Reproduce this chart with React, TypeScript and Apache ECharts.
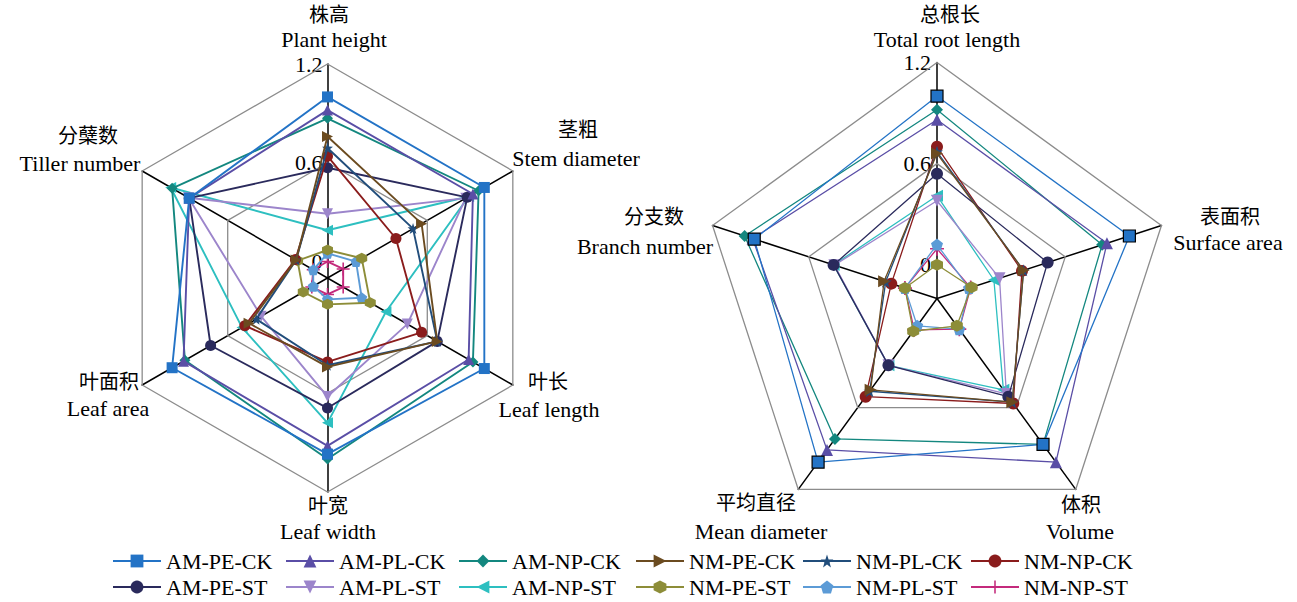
import React, { useEffect, useRef } from "react";
import * as echarts from "echarts";

// ---------------- data ----------------
const seriesNames = [
  "AM-PE-CK", "AM-PL-CK", "AM-NP-CK", "NM-PE-CK", "NM-PL-CK", "NM-NP-CK",
  "AM-PE-ST", "AM-PL-ST", "AM-NP-ST", "NM-PE-ST", "NM-PL-ST", "NM-NP-ST",
];

// traits listed clockwise from the top axis
const growthTraitsCn = ["株高", "茎粗", "叶长", "叶宽", "叶面积", "分蘖数"];
const growthTraitsEn = ["Plant height", "Stem diameter", "Leaf length", "Leaf width", "Leaf area", "Tiller number"];
const rootTraitsCn = ["总根长", "表面积", "体积", "平均直径", "分支数"];
const rootTraitsEn = ["Total root length", "Surface area", "Volume", "Mean diameter", "Branch number"];

const tickValues = [0, 0.6, 1.2];
const tickLabels = ["0", "0.6", "1.2"];
const ringLevels = [0.6, 1.2];

// growth traits (plant height, stem diameter, leaf length, leaf width, leaf area, tiller number)
const growthAMPECK = [1.0, 1.0, 1.0, 0.97, 0.99, 0.87];
const growthAMPLCK = [0.92, 0.92, 0.89, 0.92, 0.91, 0.87];
const growthAMNPCK = [0.87, 0.96, 0.92, 1.0, 0.9, 0.99];
const growthNMPECK = [0.76, 0.56, 0.67, 0.44, 0.45, 0.12];
const growthNMPLCK = [0.69, 0.5, 0.67, 0.43, 0.4, 0.12];
const growthNMNPCK = [0.64, 0.38, 0.56, 0.41, 0.48, 0.125];
const growthAMPEST = [0.57, 0.88, 0.67, 0.69, 0.72, 0.87];
const growthAMPLST = [0.29, 0.87, 0.46, 0.62, 0.365, 0.875];
const growthAMNPST = [0.19, 0.89, 0.31, 0.78, 0.5, 1.0];
const growthNMPEST = [0.07, 0.14, 0.2, 0.06, 0.07, 0.11];
const growthNMPLST = [0.05, 0.1, 0.14, 0.03, 0.0, 0.0];
const growthNMNPST = [0.0, 0.01, 0.01, 0.0, 0.01, 0.0];

// root traits (total root length, surface area, volume, mean diameter, branch number)
const rootAMPECK = [1.0, 1.0, 0.87, 1.0, 0.94];
const rootAMPLCK = [0.86, 0.86, 1.0, 0.91, 0.95];
const rootAMNPCK = [0.92, 0.83, 0.87, 0.83, 1.0];
const rootNMPECK = [0.66, 0.34, 0.56, 0.47, 0.13];
const rootNMPLCK = [0.67, 0.34, 0.56, 0.48, 0.12];
const rootNMNPCK = [0.7, 0.33, 0.57, 0.52, 0.085];
const rootAMPEST = [0.54, 0.49, 0.52, 0.29, 0.445];
const rootAMPLST = [0.38, 0.19, 0.5, 0.29, 0.44];
const rootAMNPST = [0.41, 0.155, 0.47, 0.29, 0.445];
const rootNMPEST = [0.0, 0.015, 0.0, 0.04, 0.0];
const rootNMPLST = [0.12, 0.0, 0.025, 0.0, 0.0];
const rootNMNPST = [0.095, 0.01, 0.025, 0.03, 0.0];

const growthValues = [
  growthAMPECK, growthAMPLCK, growthAMNPCK, growthNMPECK, growthNMPLCK, growthNMNPCK,
  growthAMPEST, growthAMPLST, growthAMNPST, growthNMPEST, growthNMPLST, growthNMNPST,
];
const rootValues = [
  rootAMPECK, rootAMPLCK, rootAMNPCK, rootNMPECK, rootNMPLCK, rootNMNPCK,
  rootAMPEST, rootAMPLST, rootAMNPST, rootNMPEST, rootNMPLST, rootNMNPST,
];

// ---------------- styles ----------------
const colors = [
  "#2373c6", "#5a4ea6", "#13877f", "#6b4b20", "#214d7b", "#8a1c1c",
  "#2a2a5c", "#9c85cb", "#2dbfc0", "#8d8d38", "#5c9bd6", "#c42a7c",
];
const P = "path://";
const symbols = [
  "rect",
  "triangle",
  "diamond",
  P + "M1,0 L10,5 L1,10 Z",
  P + "M5,0 L6.176,3.382 L9.755,3.455 L6.902,5.618 L7.939,9.045 L5,7 L2.061,9.045 L3.098,5.618 L0.245,3.455 L3.824,3.382 Z",
  "circle",
  "circle",
  P + "M0,1 L10,1 L5,10 Z",
  P + "M9,0 L0,5 L9,10 Z",
  P + "M5,0 L9.33,2.5 L9.33,7.5 L5,10 L0.67,7.5 L0.67,2.5 Z",
  P + "M5,0 L9.755,3.455 L7.939,9.045 L2.061,9.045 L0.245,3.455 Z",
  P + "M4.4,0 L5.6,0 L5.6,4.4 L10,4.4 L10,5.6 L5.6,5.6 L5.6,10 L4.4,10 L4.4,5.6 L0,5.6 L0,4.4 L4.4,4.4 Z",
];

const SERIF = '"Liberation Serif", "Times New Roman", serif';
const CJK = '"Noto Sans CJK SC", sans-serif';

// label layout (centres of the two-line axis names)
const growthNamePos = [
  [[329, 13], [334, 39]],
  [[578, 128], [576, 158]],
  [[548, 380], [549, 409]],
  [[328, 504], [328, 531]],
  [[109, 380], [108, 408]],
  [[88, 134], [80, 163]],
];
const rootNamePos = [
  [[950, 13], [947, 39]],
  [[1230, 215], [1228, 242]],
  [[1081, 503], [1080, 531]],
  [[756, 501], [761, 531]],
  [[654, 215], [645, 246]],
];
const legendColLeft = [112, 285, 458, 635, 802, 970];
const legendRowTop = [550, 576];

// ECharts places indicators counter-clockwise; reorder clockwise lists
const toCCW = <T,>(arr: T[]): T[] => [arr[0], ...arr.slice(1).reverse()];

function tickFormatter(v: number) {
  const r = Math.round(v * 100) / 100;
  const i = tickValues.findIndex((t) => Math.abs(t - r) < 1e-6);
  return i >= 0 ? tickLabels[i] : "";
}

function makeRadar(n: number, center: number[], radius: number, min: number, split: number, margin: number) {
  const indicator = [];
  for (let i = 0; i < n; i++) {
    const ind: any = { name: "", min, max: 1.2 };
    if (i === 0) {
      ind.axisLabel = {
        show: true,
        formatter: tickFormatter,
        color: "#000",
        fontFamily: SERIF,
        fontSize: 22,
        margin,
        padding: [0, 0, 3, 0],
        showMinLabel: true,
        showMaxLabel: true,
      };
    }
    indicator.push(ind);
  }
  return {
    center,
    radius,
    startAngle: 90,
    shape: "polygon",
    splitNumber: split,
    indicator,
    axisName: { show: false },
    splitLine: { show: false },
    splitArea: { show: false },
    axisTick: { show: false },
    axisLabel: { show: false },
    axisLine: { lineStyle: { color: "#000", width: 1.5 } },
  };
}

export default function App() {
  const ref = useRef<HTMLDivElement>(null);

  useEffect(() => {
    if (!ref.current) return;
    const chart = echarts.init(ref.current, undefined, { renderer: "svg" });

    const series: any[] = [];

    // legend icon carriers (line + symbol)
    seriesNames.forEach((name, i) => {
      series.push({
        type: "line",
        name,
        data: [],
        symbol: symbols[i],
        symbolSize: 12,
        itemStyle: { color: colors[i] },
        lineStyle: { color: colors[i], width: 2 },
        xAxisIndex: 0,
        yAxisIndex: 0,
      });
    });

    // reference rings
    [0, 1].forEach((ri) => {
      const n = ri === 0 ? growthTraitsCn.length : rootTraitsCn.length;
      series.push({
        type: "radar",
        radarIndex: ri,
        silent: true,
        z: 1,
        symbol: "none",
        lineStyle: { color: "#8c8c8c", width: 1.3 },
        data: ringLevels.map((lv) => ({ value: new Array(n).fill(lv) })),
      });
    });

    // data series
    seriesNames.forEach((name, i) => {
      series.push({
        type: "radar",
        name,
        radarIndex: 0,
        z: 3 + (seriesNames.length - i) * 0.01,
        symbol: symbols[i],
        symbolSize: i === 11 ? 13 : 11,
        itemStyle: { color: colors[i] },
        lineStyle: { color: colors[i], width: 1.9 },
        emphasis: { disabled: true },
        data: [{ name, value: toCCW(growthValues[i]) }],
      });
      series.push({
        type: "radar",
        name,
        radarIndex: 1,
        z: 3 + (seriesNames.length - i) * 0.01,
        symbol: symbols[i],
        symbolSize: i === 11 ? 14 : 12,
        itemStyle:
          i === 0
            ? { color: colors[i], borderColor: "#000", borderWidth: 1.2 }
            : { color: colors[i] },
        lineStyle: { color: colors[i], width: 1.3 },
        emphasis: { disabled: true },
        data: [{ name, value: toCCW(rootValues[i]) }],
      });
    });

    // legends: one per entry, 6 columns, CK on top row, ST on bottom row
    const legends = seriesNames.map((name, i) => ({
      left: legendColLeft[i % 6],
      top: legendRowTop[Math.floor(i / 6)],
      orient: "horizontal",
      padding: 0,
      itemWidth: 48,
      itemHeight: 16,
      selectedMode: false,
      textStyle: { fontFamily: SERIF, fontSize: 22, color: "#000" },
      data: [name],
    }));

    // axis names
    const graphic: any[] = [];
    const addNames = (cn: string[], en: string[], pos: number[][][]) => {
      cn.forEach((t, i) => {
        graphic.push({
          type: "text",
          x: pos[i][0][0],
          y: pos[i][0][1],
          silent: true,
          style: { text: t, fontFamily: CJK, fontSize: 20, fill: "#000", align: "center", verticalAlign: "middle" },
        });
        graphic.push({
          type: "text",
          x: pos[i][1][0],
          y: pos[i][1][1],
          silent: true,
          style: { text: en[i], fontFamily: SERIF, fontSize: 22, fill: "#000", align: "center", verticalAlign: "middle" },
        });
      });
    };
    addNames(growthTraitsCn, growthTraitsEn, growthNamePos);
    addNames(rootTraitsCn, rootTraitsEn, rootNamePos);

    chart.setOption({
      animation: false,
      backgroundColor: "#fff",
      grid: { left: -50, top: -50, width: 10, height: 10, show: false },
      xAxis: { type: "value", show: false },
      yAxis: { type: "value", show: false },
      radar: [
        makeRadar(growthTraitsCn.length, [327.5, 278], 214, -0.1, 13, 5),
        makeRadar(rootTraitsCn.length, [937, 298.5], 236, -0.2, 7, 6),
      ],
      legend: legends,
      graphic,
      series,
    });

    return () => chart.dispose();
  }, []);

  return (
    <div
      ref={ref}
      style={{ position: "fixed", left: 0, top: 0, width: 1297, height: 602, background: "#fff" }}
    />
  );
}
